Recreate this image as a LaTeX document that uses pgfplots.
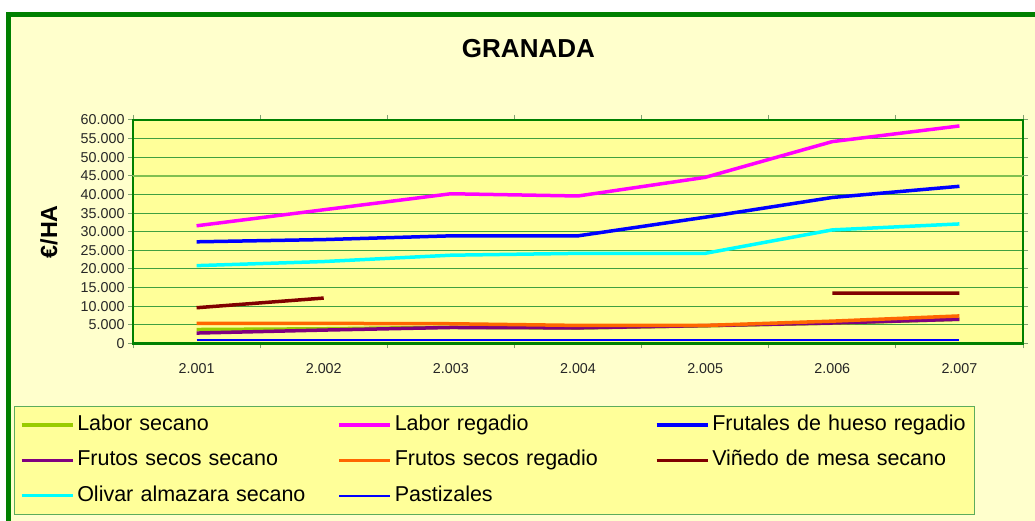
\documentclass[border=0pt]{standalone}
\usepackage{fontspec}
\setmainfont{Liberation Sans}
\usepackage{pgfplots}
\pgfplotsset{compat=1.18}
\definecolor{bgyellow}{HTML}{FFFFCC}
\definecolor{plotbg}{HTML}{FFFF99}
\definecolor{framegreen}{HTML}{008000}
\definecolor{gridgreen}{HTML}{40A040}
\definecolor{gridlight}{HTML}{80C050}
\definecolor{legendgreen}{HTML}{5CAD5C}
\definecolor{tickgray}{HTML}{80A070}
\definecolor{cLaborSec}{HTML}{99CC00}
\definecolor{cLaborReg}{HTML}{FF00FF}
\definecolor{cFrutales}{HTML}{0000FF}
\definecolor{cFSSec}{HTML}{800080}
\definecolor{cFSReg}{HTML}{FF6600}
\definecolor{cVinedo}{HTML}{800000}
\definecolor{cOlivar}{HTML}{00FFFF}
\definecolor{cPast}{HTML}{0000FF}
\begin{document}
\begin{tikzpicture}
\useasboundingbox (0pt,0pt) rectangle (1035pt,521pt);
\fill[white] (0pt,0pt) rectangle (1035pt,521pt);
\fill[bgyellow] (8.5pt,-10pt) rectangle (1050pt,506.5pt);
\draw[framegreen, line width=5pt] (8.5pt,-10pt) -- (8.5pt,506.5pt) -- (1050pt,506.5pt);
\begin{axis}[
  at={(133pt,177.5pt)}, anchor=south west,
  scale only axis, width=890pt, height=223.5pt,
  xmin=0.5, xmax=7.5, ymin=0, ymax=60000,
  scaled y ticks=false,
  axis background/.style={fill=plotbg},
  axis line style={draw=framegreen, line width=2.2pt},
  xtick={1,2,3,4,5,6,7},
  xticklabels={2.001,2.002,2.003,2.004,2.005,2.006,2.007},
  major x tick style={draw=none},
  minor xtick={0.5,1.5,2.5,3.5,4.5,5.5,6.5,7.5},
  ytick={0,5000,10000,15000,20000,25000,30000,35000,40000,45000,50000,55000,60000},
  yticklabels={0,5.000,10.000,15.000,20.000,25.000,30.000,35.000,40.000,45.000,50.000,55.000,60.000},
  extra y ticks={45000}, extra y tick labels={},
  extra y tick style={grid style={draw=gridlight, line width=2pt}},
  tick align=outside, major tick length=5pt, minor tick length=5pt,
  tick style={draw=tickgray, line width=1pt},
  ymajorgrids, grid style={draw=gridgreen, line width=1pt},
  ticklabel style={font=\fontsize{14.3}{15}\selectfont, text=black!85},
  xticklabel style={yshift=-11pt},
  unbounded coords=jump,
  title={GRANADA},
  title style={at={(axis description cs:0.4443,1.2907)}, anchor=center, font=\fontsize{26}{28}\selectfont\bfseries},
  ylabel={€/HA},
  ylabel style={at={(axis description cs:-0.0944,0.5)}, anchor=center, font=\fontsize{23.3}{25}\selectfont\bfseries},
  legend columns=3,
  legend cell align=left,
  legend image code/.code={\draw[#1] (0pt,0pt) -- (51pt,0pt);},
  legend style={at={(axis description cs:-0.1334,-0.2796)}, anchor=north west,
    draw=legendgreen, line width=1pt, fill=plotbg,
    font=\fontsize{21.5}{22}\selectfont,
    inner xsep=5pt, inner ysep=8.5pt, column sep=3pt, row sep=15.3pt,
    nodes={inner sep=0pt, text width=257pt, align=left, text height=15.5pt, text depth=4.5pt}},
  every axis plot/.append style={line width=3.5pt, line join=round},
]
\addplot[cLaborSec] coordinates {(1,3750) (2,3950) (3,4350) (4,4150) (5,4750) (6,5450) (7,6500)};
\addlegendentry{Labor secano}
\addplot[cLaborReg] coordinates {(1,31600) (2,35900) (3,40200) (4,39600) (5,44600) (6,54200) (7,58400)};
\addlegendentry{Labor regadio}
\addplot[cFrutales] coordinates {(1,27300) (2,27900) (3,28900) (4,28900) (5,33900) (6,39200) (7,42200)};
\addlegendentry{Frutales de hueso regadio}
\addplot[cFSSec] coordinates {(1,2800) (2,3600) (3,4300) (4,4200) (5,4800) (6,5500) (7,6500)};
\addlegendentry{Frutos secos secano}
\addplot[cFSReg] coordinates {(1,5400) (2,5400) (3,5300) (4,4850) (5,4850) (6,6000) (7,7400)};
\addlegendentry{Frutos secos regadio}
\addplot[cVinedo] coordinates {(1,9600) (2,12200) (3,nan) (4,nan) (5,nan) (6,13500) (7,13500)};
\addlegendentry{Viñedo de mesa secano}
\addplot[cOlivar] coordinates {(1,20900) (2,22000) (3,23700) (4,24200) (5,24200) (6,30500) (7,32100)};
\addlegendentry{Olivar almazara secano}
\addplot[cPast, line width=2pt] coordinates {(1,1000) (2,1000) (3,1000) (4,1000) (5,1000) (6,1000) (7,1000)};
\addlegendentry{Pastizales}
\end{axis}
\end{tikzpicture}
\end{document}
